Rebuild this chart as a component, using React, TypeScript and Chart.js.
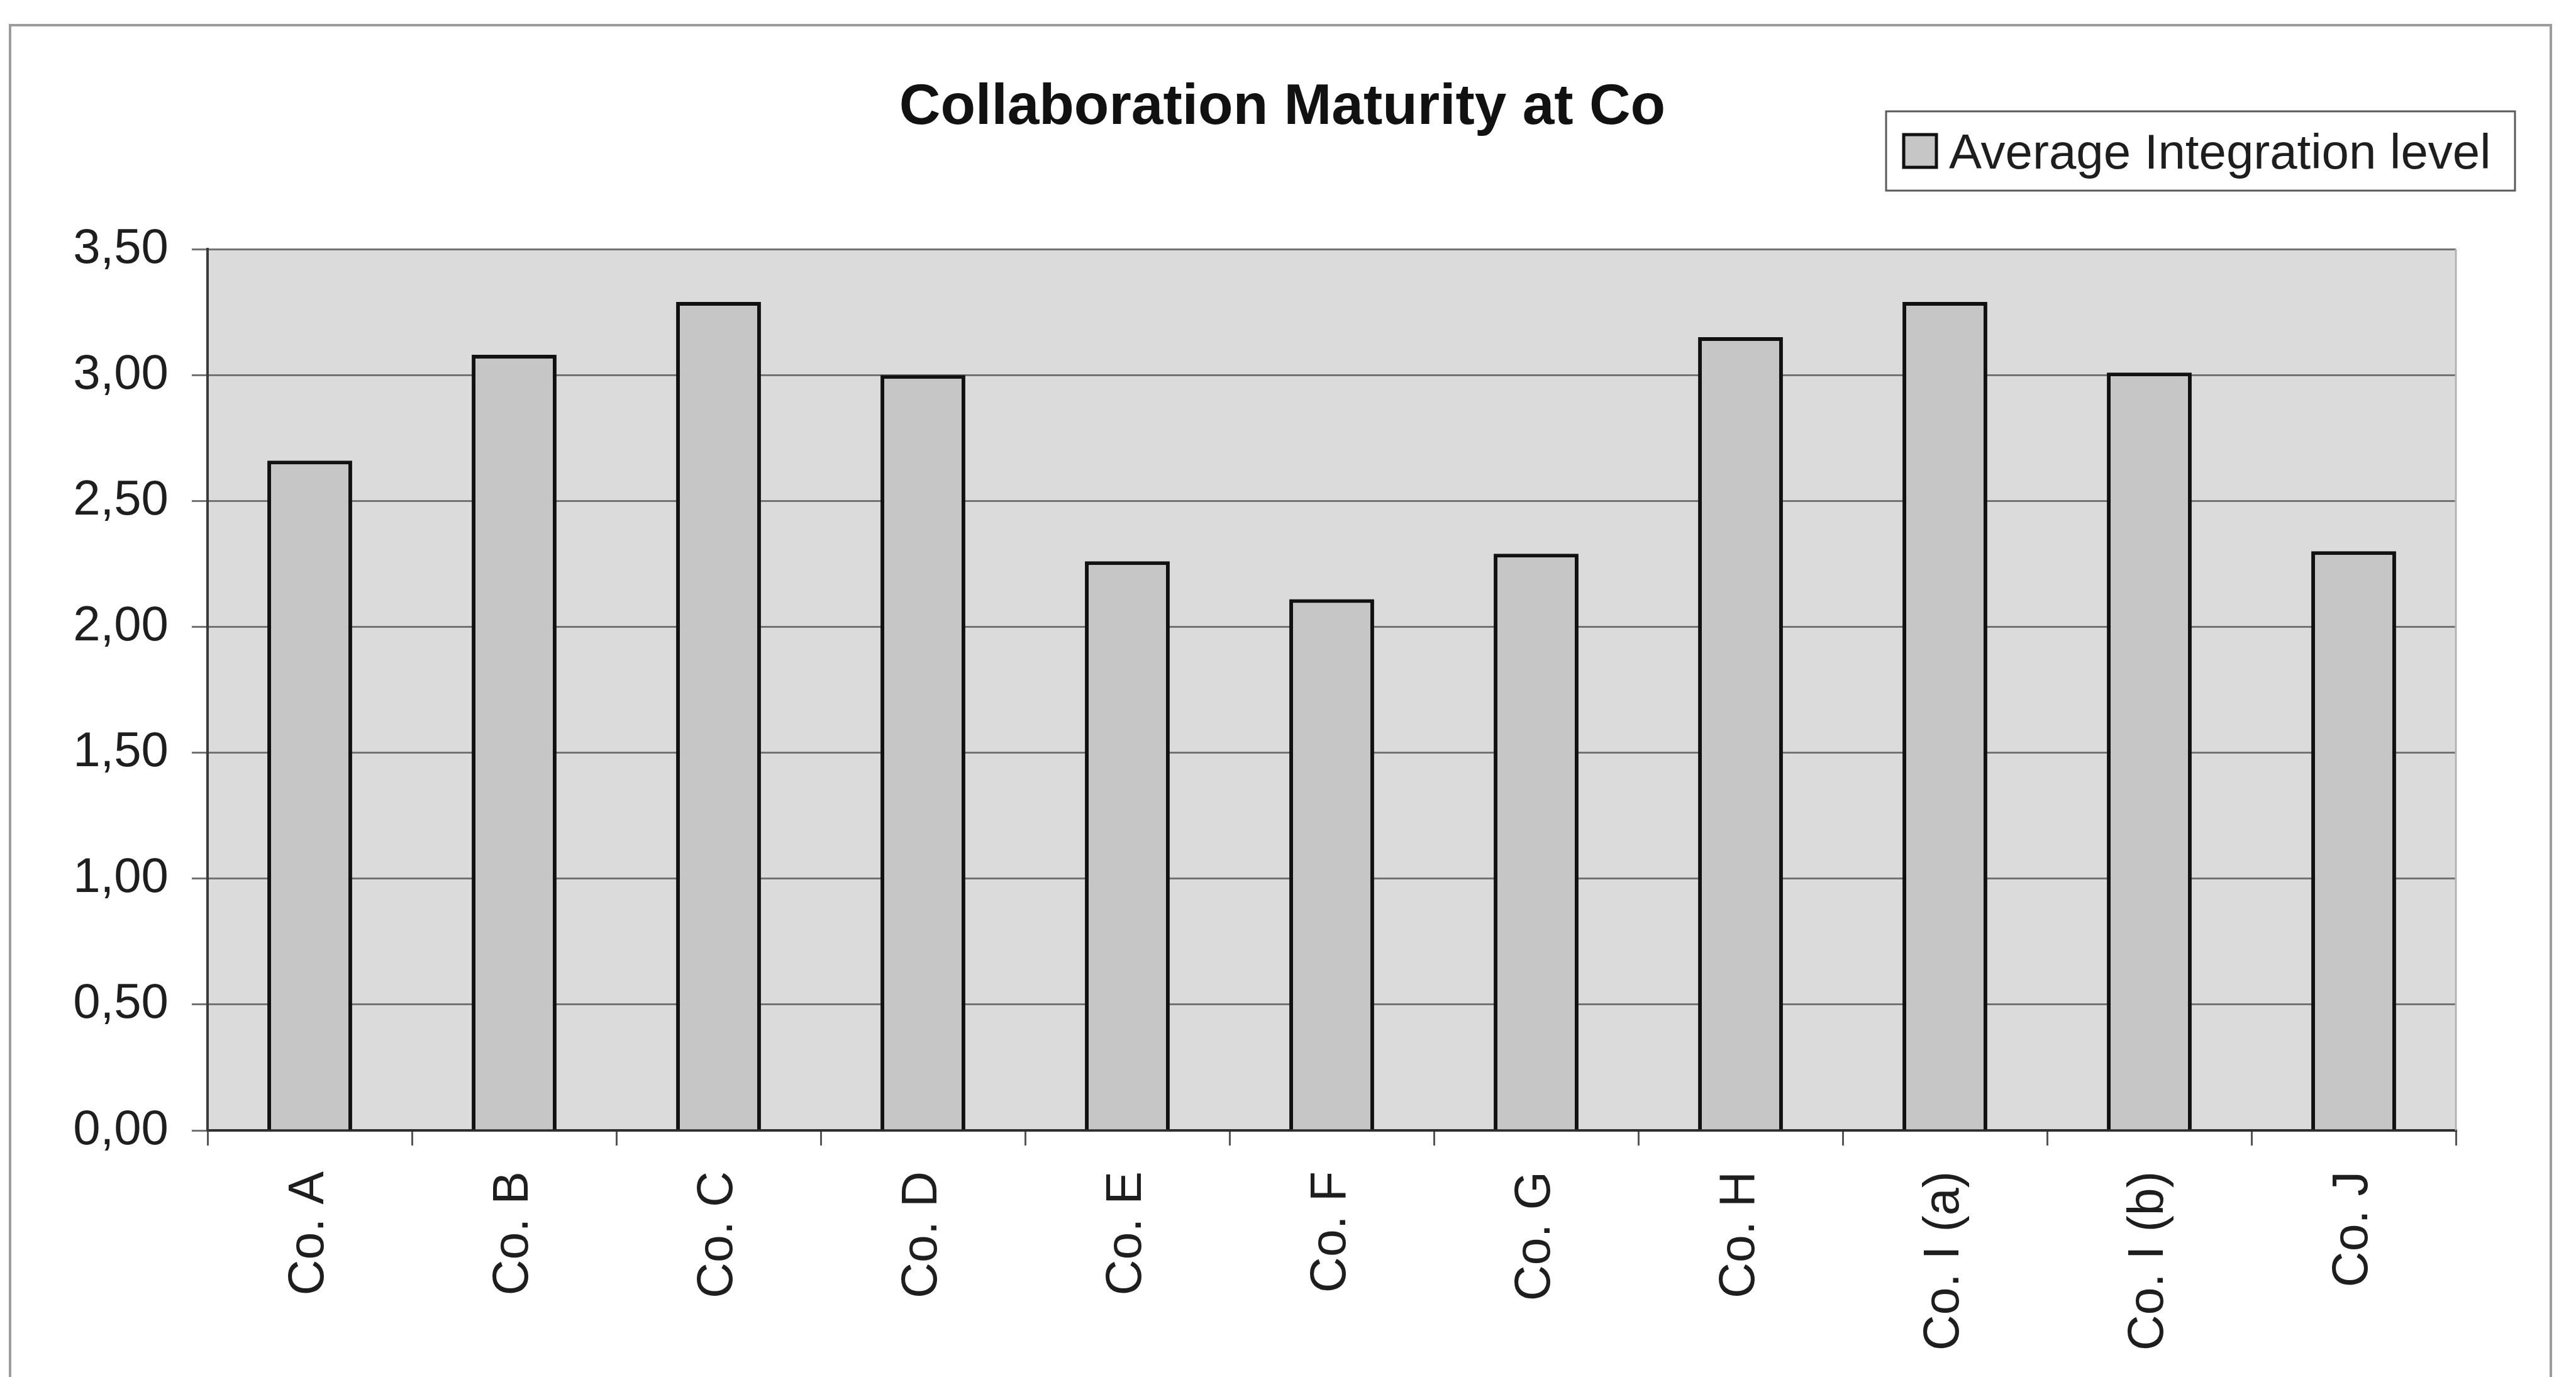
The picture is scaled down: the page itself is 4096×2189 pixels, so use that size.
import { useEffect, useRef } from "react";
import { Chart, registerables } from "chart.js";

Chart.register(...registerables);

// ---- data ----
const categories = [
  "Co. A",
  "Co. B",
  "Co. C",
  "Co. D",
  "Co. E",
  "Co. F",
  "Co. G",
  "Co. H",
  "Co. I (a)",
  "Co. I (b)",
  "Co. J",
];
const averageIntegration = [2.66, 3.08, 3.29, 3.0, 2.26, 2.11, 2.29, 3.15, 3.29, 3.01, 2.3];
const seriesLabel = "Average Integration level";
const chartTitle = "Collaboration Maturity at Co";
const yMin = 0;
const yMax = 3.5;
const yStep = 0.5;
const formatTick = (v: number) => v.toFixed(2).replace(".", ",");

// ---- styling / layout ----
const W = 4096;
const H = 2189;
const FONT = "'Liberation Sans', Arial, Helvetica, sans-serif";
const PLOT_BG = "#dbdbdb";
const BAR_FILL = "#c6c6c6";
const BAR_EDGE = "#111111";
const TEXT = "#1e1e1e";

export default function App() {
  const ref = useRef<HTMLCanvasElement | null>(null);

  useEffect(() => {
    const canvas = ref.current;
    if (!canvas) return;

    const decor = {
      id: "decor",
      beforeDraw(chart: any) {
        const { ctx, chartArea: a } = chart;
        ctx.save();
        ctx.fillStyle = "#ffffff";
        ctx.fillRect(0, 0, chart.width, chart.height);
        // outer frame (bottom edge lies beyond the picture)
        ctx.strokeStyle = "#9c9c9c";
        ctx.lineWidth = 4;
        ctx.strokeRect(16, 40, 4040, H + 50);
        // plot background
        ctx.fillStyle = PLOT_BG;
        ctx.fillRect(a.left, a.top, a.right - a.left, a.bottom - a.top);
        // title
        ctx.fillStyle = "#111111";
        ctx.font = `bold 91px ${FONT}`;
        ctx.textAlign = "center";
        ctx.textBaseline = "alphabetic";
        ctx.fillText(chartTitle, 2039, 197);
        ctx.restore();
      },
      afterDraw(chart: any) {
        const { ctx, chartArea: a } = chart;
        ctx.save();
        // right edge of plot area
        ctx.strokeStyle = "#b4b4b4";
        ctx.lineWidth = 3;
        ctx.beginPath();
        ctx.moveTo(a.right, a.top);
        ctx.lineTo(a.right, a.bottom);
        ctx.stroke();

        // legend box
        const ds = chart.data.datasets[0];
        const bx = 2999, by = 177, bw = 1000, bh = 126;
        ctx.fillStyle = "#ffffff";
        ctx.fillRect(bx, by, bw, bh);
        ctx.strokeStyle = "#5a5a5a";
        ctx.lineWidth = 3;
        ctx.strokeRect(bx, by, bw, bh);
        const mid = by + bh / 2;
        const ms = 52;
        ctx.fillStyle = ds.backgroundColor;
        ctx.fillRect(3027, mid - ms / 2, ms, ms);
        ctx.strokeStyle = "#111111";
        ctx.lineWidth = 5;
        ctx.strokeRect(3027, mid - ms / 2, ms, ms);
        ctx.fillStyle = TEXT;
        ctx.font = `78px ${FONT}`;
        ctx.textAlign = "left";
        ctx.textBaseline = "alphabetic";
        ctx.fillText(ds.label, 3099, mid + 28);
        ctx.restore();
      },
    };

    const chart = new Chart(canvas, {
      type: "bar",
      data: {
        labels: categories,
        datasets: [
          {
            label: seriesLabel,
            data: averageIntegration,
            backgroundColor: BAR_FILL,
            borderColor: BAR_EDGE,
            borderWidth: 6,
            categoryPercentage: 1,
            barPercentage: 0.415,
          },
        ],
      },
      options: {
        animation: false,
        responsive: false,
        devicePixelRatio: 1,
        events: [],
        layout: { padding: { left: 16, right: 191, top: 396, bottom: 0 } },
        plugins: {
          legend: { display: false },
          tooltip: { enabled: false },
          title: { display: false },
        },
        scales: {
          x: {
            type: "category",
            grid: {
              display: true,
              drawOnChartArea: false,
              drawTicks: true,
              tickLength: 24,
              offset: true,
              color: "#555555",
              lineWidth: 3,
            },
            border: { display: true, color: "#2e2e2e", width: 4 },
            ticks: {
              autoSkip: false,
              minRotation: 90,
              maxRotation: 90,
              padding: 41,
              color: TEXT,
              font: { family: FONT, size: 79 },
            },
            afterFit(scale: any) {
              scale.height = 392;
            },
          },
          y: {
            min: yMin,
            max: yMax,
            ticks: {
              stepSize: yStep,
              padding: 37,
              color: TEXT,
              font: { family: FONT, size: 78 },
              callback: (v: any) => formatTick(Number(v)),
            },
            grid: {
              color: "#737373",
              lineWidth: 3,
              tickLength: 25,
              drawTicks: true,
            },
            border: { display: true, color: "#3a3a3a", width: 4 },
            afterFit(scale: any) {
              scale.width = 314;
            },
          },
        },
      },
      plugins: [decor],
    } as any);

    return () => chart.destroy();
  }, []);

  return (
    <div style={{ position: "absolute", left: 0, top: 0, width: W, height: H, background: "#fff" }}>
      <canvas ref={ref} width={W} height={H} style={{ width: W, height: H, display: "block" }} />
    </div>
  );
}
